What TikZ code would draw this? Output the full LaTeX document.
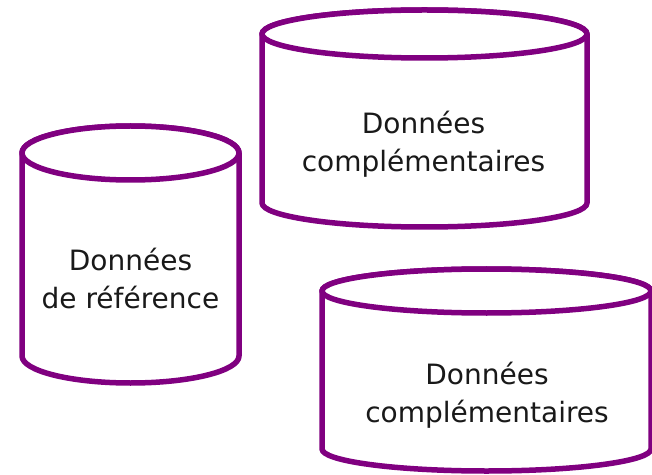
\documentclass[tikz,border=0pt]{standalone}
\usepackage{fontspec}
\setmainfont{DejaVu Sans}
\definecolor{cylpurple}{HTML}{800080}
\tikzset{
  cylline/.style={draw=cylpurple, line width=5.5pt, fill=white, line join=round},
  cyltext/.style={align=center, font=\fontsize{28}{38}\selectfont, text=black!90, inner sep=0pt}
}
% #1 cx, #2 rx, #3 top cy, #4 bottom cy, #5 ry
\newcommand{\drawcyl}[5]{%
  \path[cylline] (#1-#2,#3) -- (#1-#2,#4) arc[start angle=180,end angle=360,x radius=#2,y radius=#5] -- (#1+#2,#3) arc[start angle=0,end angle=180,x radius=#2,y radius=#5] -- cycle;
  \path[cylline] (#1,#3) ellipse[x radius=#2,y radius=#5];
}
\begin{document}
\begin{tikzpicture}[x=1pt,y=1pt]
\useasboundingbox (0,0) rectangle (652,474);
\clip (0,0) rectangle (652,474);
\fill[white] (0,0) rectangle (652,474);
\drawcyl{130.5}{108.5}{321}{118}{27}
\node[cyltext] (ref) at (130.5,195) {Données\\de référence};
\drawcyl{424.5}{162.5}{440}{271}{24}
\node[cyltext] (compA) at (423.5,330) {Données\\complémentaires};
\drawcyl{486.5}{164.5}{183}{25}{22}
\node[cyltext] (compB) at (487,79) {Données\\complémentaires};
\end{tikzpicture}
\end{document}
